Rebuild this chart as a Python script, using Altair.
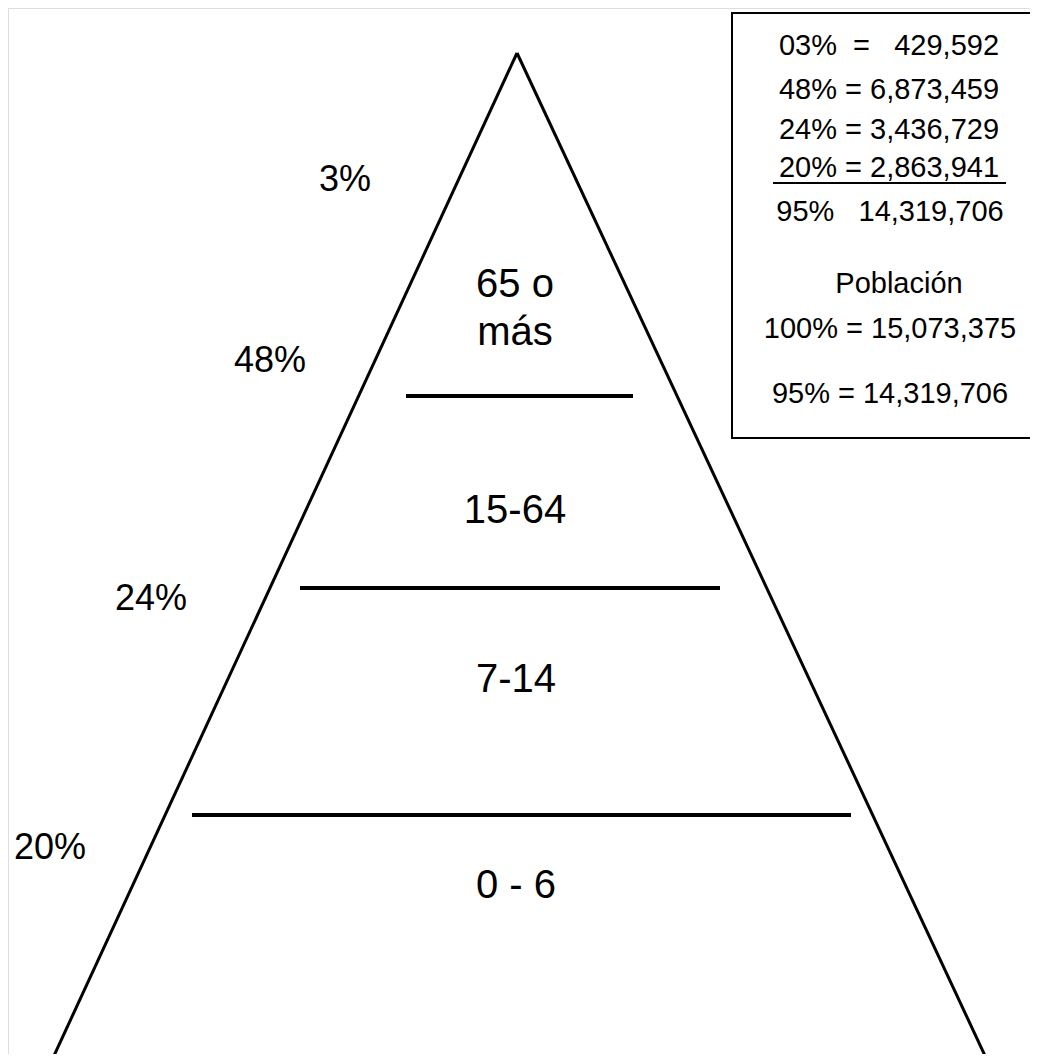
import altair as alt
import pandas as pd

# ---- data ----
# pyramid outline (apex and base corners, picture coordinates)
edge_x1 = [517, 517]
edge_y1 = [53, 53]
edge_x2 = [52, 987]
edge_y2 = [1060, 1060]

# dividers between age groups
divider_y = [396, 588, 815]
divider_x1 = [406, 300, 192]
divider_x2 = [633, 720, 851]

# age groups
group_labels = ["65 o", "más", "15-64", "7-14", "0 - 6"]
group_x = [515, 515, 515, 516, 516]
group_y = [297, 345, 523, 692, 898]

# shares on the left
pct_labels = ["3%", "48%", "24%", "20%"]
pct_x = [345, 270, 151, 50]
pct_y = [191, 372, 610, 859]

# legend box
box_x1, box_y1, box_x2, box_y2 = [732], [13], [1045], [438]
box_lines = [
    "03%\u00a0\u00a0=\u00a0\u00a0\u00a0429,592",
    "48% = 6,873,459",
    "24% = 3,436,729",
    "20% = 2,863,941",
    "95%\u00a0\u00a0\u00a014,319,706",
    "Población",
    "100% = 15,073,375",
    "95% = 14,319,706",
]
box_x = [889, 889, 889, 889, 890, 899, 890, 890]
box_y = [55, 99, 139, 177, 221, 293, 338, 403]
underline_x1, underline_x2, underline_y = [773], [1006], [183]

FONT = "Liberation Sans"
W, H = 1022, 1046
xs = alt.Scale(domain=[8, 8 + W], nice=False, zero=False)
ys = alt.Scale(domain=[8, 8 + H], nice=False, zero=False, reverse=True)

def X(f):
    return alt.X(f, type="quantitative", scale=xs, axis=None)

def Y(f):
    return alt.Y(f, type="quantitative", scale=ys, axis=None)

edges = pd.DataFrame({"x": edge_x1, "y": edge_y1, "x2": edge_x2, "y2": edge_y2})
edge_layer = alt.Chart(edges).mark_rule(color="black", strokeWidth=3).encode(
    x=X("x"), y=Y("y"), x2="x2", y2="y2"
)

divs = pd.DataFrame({"x": divider_x1, "x2": divider_x2, "y": divider_y})
div_layer = alt.Chart(divs).mark_rule(color="black", strokeWidth=4).encode(
    x=X("x"), x2="x2", y=Y("y")
)

groups = pd.DataFrame({"t": group_labels, "x": group_x, "y": group_y})
group_layer = alt.Chart(groups).mark_text(
    font=FONT, fontSize=40, color="black", align="center", baseline="alphabetic"
).encode(x=X("x"), y=Y("y"), text="t")

pcts = pd.DataFrame({"t": pct_labels, "x": pct_x, "y": pct_y})
pct_layer = alt.Chart(pcts).mark_text(
    font=FONT, fontSize=36, color="black", align="center", baseline="alphabetic"
).encode(x=X("x"), y=Y("y"), text="t")

box = pd.DataFrame({"x": box_x1, "x2": box_x2, "y": box_y1, "y2": box_y2})
box_layer = alt.Chart(box).mark_rect(fill=None, fillOpacity=0, stroke="black", strokeWidth=2).encode(
    x=X("x"), x2="x2", y=Y("y"), y2="y2"
)

bl = pd.DataFrame({"t": box_lines, "x": box_x, "y": box_y})
box_text = alt.Chart(bl).mark_text(
    font=FONT, fontSize=29, color="black", align="center", baseline="alphabetic"
).encode(x=X("x"), y=Y("y"), text="t")

ul = pd.DataFrame({"x": underline_x1, "x2": underline_x2, "y": underline_y})
ul_layer = alt.Chart(ul).mark_rule(color="black", strokeWidth=2).encode(
    x=X("x"), x2="x2", y=Y("y")
)

chart = alt.layer(
    edge_layer, div_layer, group_layer, pct_layer, box_layer, box_text, ul_layer
).properties(
    width=W, height=H, padding=0, autosize=alt.AutoSizeParams(type="none")
).configure_view(stroke=None).configure(background="white")

chart.save("out.html", embed_options={"renderer": "svg", "actions": False})
